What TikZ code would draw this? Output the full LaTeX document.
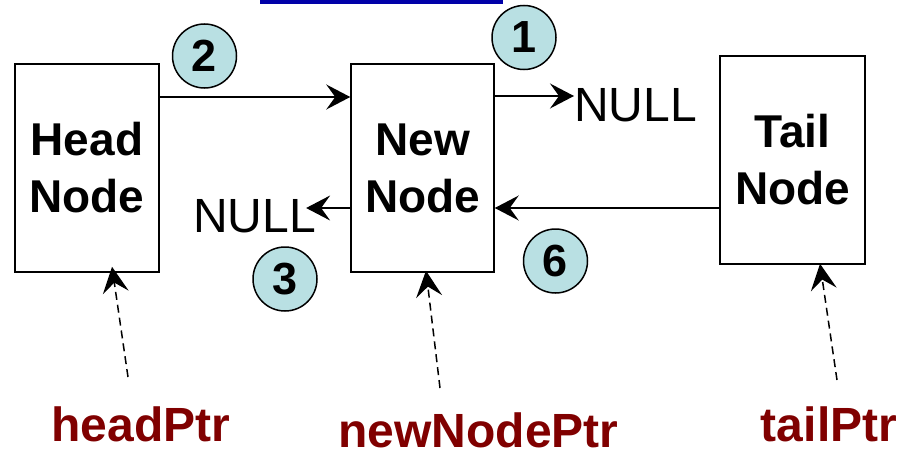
\documentclass[tikz,border=0pt]{standalone}
\usepackage{fontspec}
\setmainfont{Liberation Sans}
\usetikzlibrary{arrows.meta}
\definecolor{circfill}{RGB}{185,224,227}
\definecolor{ptrred}{RGB}{128,0,0}
\definecolor{topblue}{RGB}{0,0,168}
\begin{document}
\begin{tikzpicture}[x=1pt,y=-1pt,
  box/.style={draw, line width=1.5pt, minimum width=144pt, minimum height=208pt, inner sep=0pt, align=center, font=\fontsize{46}{57}\selectfont\bfseries},
  num/.style={circle, draw, line width=1.5pt, fill=circfill, minimum size=64pt, inner sep=0pt, font=\fontsize{45}{50}\selectfont\bfseries},
  nulltxt/.style={inner sep=0pt, font=\fontsize{48}{56}\selectfont},
  ptr/.style={inner sep=0pt, text=ptrred, font=\fontsize{48}{58}\selectfont\bfseries},
  arr/.style={line width=1.5pt, -{Stealth[length=24pt,width=25pt,inset=9pt]}},
  darr/.style={line width=1.5pt, dash pattern=on 8pt off 5pt, -{Stealth[length=26pt,width=26pt,inset=10pt]}},
]
\useasboundingbox (0,0) rectangle (913,455);
\fill[white] (0,0) rectangle (913,455);
\fill[topblue] (260,0) rectangle (503,3.5);

\node[box] (head) at (87,168) {Head\\Node};
\node[box, minimum width=143pt] (newn) at (422.5,168) {New\\Node};
\node[box, minimum width=145pt] (tail) at (792.5,160) {Tail\\Node};

\node[nulltxt, anchor=base west] (nullR) at (574,121) {NULL};
\node[nulltxt, anchor=base west] (nullL) at (193,232) {NULL};

\draw[arr] ([yshift=71pt]head.east) -- ([yshift=71pt]head.east -| newn.west);
\draw[arr] ([yshift=72pt]newn.east) -- ([yshift=72pt]newn.east -| nullR.west);
\draw[arr] ([yshift=-48pt]tail.west) -- ([yshift=-48pt]tail.west -| newn.east);
\draw[arr, shorten >=-10pt] ([yshift=-40pt]newn.west) -- ([yshift=-40pt]newn.west -| nullL.east);

\node[num] (c1) at (524,37.5) {1};
\node[num] (c2) at (204.5,56) {2};
\node[num] (c3) at (285,279) {3};
\node[num] (c6) at (555.5,261) {6};

\node[ptr, anchor=base] (hp) at (141,441) {headPtr};
\node[ptr, anchor=base] (np) at (478.5,447) {newNodePtr};
\node[ptr, anchor=base] (tp) at (829,441) {tailPtr};

\coordinate (hpS) at (128,377);
\coordinate (npS) at (440,388);
\coordinate (tpS) at (837,380);
\draw[darr] (hpS) -- ([xshift=25pt,yshift=6pt]head.south);
\draw[darr] (npS) -- ([xshift=3.5pt,yshift=2pt]newn.south);
\draw[darr] (tpS) -- ([xshift=27.5pt,yshift=1pt]tail.south);
\end{tikzpicture}
\end{document}
